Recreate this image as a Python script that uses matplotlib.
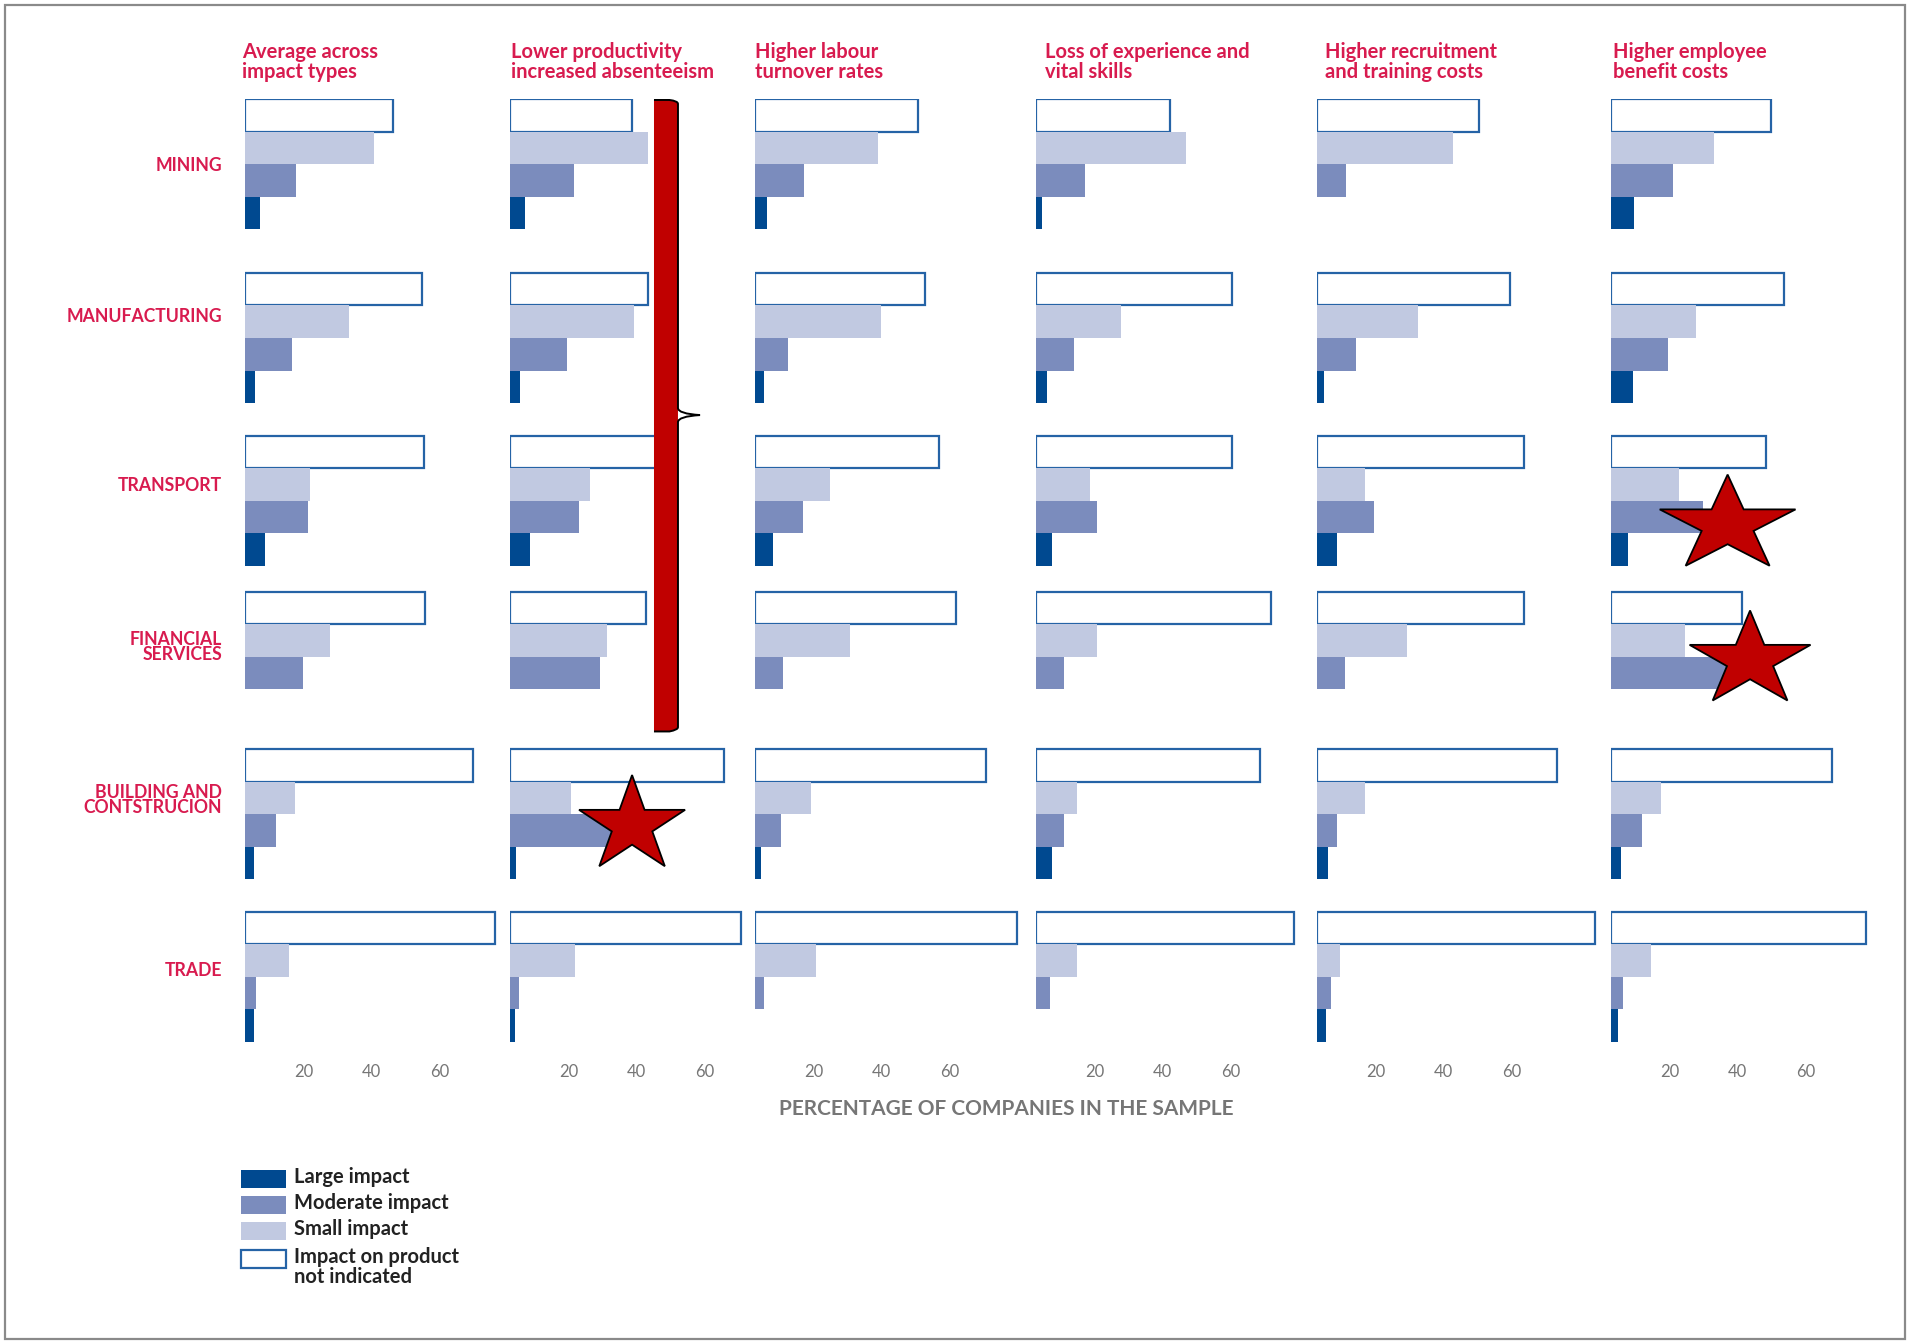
import numpy as np
import matplotlib
matplotlib.use("Agg")
import matplotlib.pyplot as plt
from matplotlib.path import Path
from matplotlib.patches import PathPatch, Polygon, Rectangle
from matplotlib.transforms import blended_transform_factory

# sectors (rows) and impact types (columns)
sectors = ["MINING", "MANUFACTURING", "TRANSPORT", "FINANCIAL\nSERVICES",
           "BUILDING AND\nCONTSTRUCION", "TRADE"]
impact_types = ["Average across\nimpact types",
                "Lower productivity\nincreased absenteeism",
                "Higher labour\nturnover rates",
                "Loss of experience and\nvital skills",
                "Higher recruitment\nand training costs",
                "Higher employee\nbenefit costs"]

# percentage of companies, rows = sectors, cols = impact types
not_indicated = [
    [43.6, 36.0, 47.8, 39.3, 47.5, 47.2],
    [52.0, 40.6, 50.0, 57.6, 56.9, 50.8],
    [52.5, 45.0, 54.0, 57.5, 61.0, 45.7],
    [53.0, 40.0, 59.0, 69.0, 61.0, 38.6],
    [67.0, 63.0, 68.0, 66.0, 70.7, 65.0],
    [73.6, 68.0, 77.0, 76.0, 81.8, 75.0],
]
small_impact = [
    [37.8, 40.7, 36.3, 44.0, 40.0, 30.2],
    [30.5, 36.6, 37.0, 25.0, 29.6, 25.1],
    [19.0, 23.5, 22.0, 16.0, 14.0, 20.0],
    [25.0, 28.5, 28.0, 18.0, 26.4, 21.8],
    [14.6, 18.0, 16.4, 12.0, 14.0, 14.6],
    [13.0, 19.0, 18.0, 12.0, 6.8, 11.8],
]
moderate_impact = [
    [15.0, 18.9, 14.5, 14.5, 8.4, 18.1],
    [13.7, 16.9, 9.6, 11.1, 11.6, 16.7],
    [18.6, 20.3, 14.0, 18.0, 16.8, 27.0],
    [17.0, 26.4, 8.2, 8.2, 8.2, 36.0],
    [9.0, 32.0, 7.5, 8.2, 6.0, 9.0],
    [3.2, 2.5, 2.5, 4.0, 4.0, 3.6],
]
large_impact = [
    [4.5, 4.5, 3.4, 1.8, 0.0, 6.9],
    [3.0, 3.0, 2.5, 3.3, 2.2, 6.5],
    [6.0, 6.0, 5.4, 4.6, 6.0, 5.0],
    [0.0, 0.0, 0.0, 0.0, 0.0, 0.0],
    [2.5, 1.8, 1.8, 4.6, 3.2, 2.9],
    [2.5, 1.5, 0.0, 0.0, 2.5, 2.1],
]
ticks = [20, 40, 60]
legend_labels = ["Large impact", "Moderate impact", "Small impact",
                 "Impact on product\nnot indicated"]

LARGE = "#004990"
MODERATE = "#7b8cbd"
SMALL = "#c1c9e1"
EDGE = "#2563a6"
RED_TEXT = "#d81b4f"
GREY = "#767676"
STAR_RED = "#c00000"

plt.rcParams["font.family"] = ["Lato", "DejaVu Sans"]

W, H = 1910, 1342
fig = plt.figure(figsize=(W / 100, H / 100), dpi=100)


def fx(x):
    return x / W


def fy(y):
    return 1 - y / H


# layout (pixels)
col_starts = [245, 510, 755, 1036, 1317, 1611]
header_x = [242, 511, 755, 1045, 1325, 1613]
px_per_unit = 3.4
top_px, bottom_px = 99, 1042
row_tops = [0, 5.35, 10.35, 15.15, 20.0, 25.0]
label_offsets = [2.05, 1.35, 1.55, 1.7, 1.55, 1.8]
x_span = 90

axes = []
for j, start in enumerate(col_starts):
    ax = fig.add_axes([fx(start), fy(bottom_px), x_span * px_per_unit / W,
                       (bottom_px - top_px) / H])
    ax.set_xlim(0, x_span)
    ax.set_ylim(29, 0)
    ax.patch.set_alpha(0)
    for s in ax.spines.values():
        s.set_visible(False)
    ax.set_yticks([])
    ax.set_xticks(ticks)
    ax.set_xticklabels([str(t) for t in ticks])
    ax.tick_params(axis="x", length=0, pad=16, labelsize=12, labelcolor=GREY)
    for lbl in ax.get_xticklabels():
        lbl.set_ha("right")

    for i in range(len(sectors)):
        y0 = row_tops[i]
        ax.barh(y0 + 0.5, not_indicated[i][j], height=1, color="white",
                edgecolor=EDGE, linewidth=1.6, align="center")
        ax.barh(y0 + 1.5, small_impact[i][j], height=1, color=SMALL,
                linewidth=0, align="center")
        ax.barh(y0 + 2.5, moderate_impact[i][j], height=1, color=MODERATE,
                linewidth=0, align="center")
        if large_impact[i][j] > 0:
            ax.barh(y0 + 3.5, large_impact[i][j], height=1, color=LARGE,
                    linewidth=0, align="center")

    fig.text(fx(header_x[j]), fy(42), impact_types[j], ha="left", va="top",
             fontsize=14.5, fontweight="bold", color=RED_TEXT, linespacing=0.97)
    axes.append(ax)

# row labels
lab_tr = blended_transform_factory(fig.transFigure, axes[0].transData)
for i, name in enumerate(sectors):
    axes[0].text(fx(222), row_tops[i] + label_offsets[i], name, transform=lab_tr,
                 ha="right", va="center", fontsize=12.7, fontweight="bold",
                 color=RED_TEXT, linespacing=0.85)

fig.text(fx(1006), fy(1109), "PERCENTAGE OF COMPANIES IN THE SAMPLE",
         ha="center", va="center", fontsize=15, fontweight="bold", color=GREY)

# red brace over the "lower productivity" column
ax = axes[1]
xl, xr, xs = 42.35, 49.4, 55.9
fill_verts = [(xl, 0.03), (xr - 2.5, 0.03), (xr, 0.06), (xr, 0.15),
              (xr, 19.32), (xr, 19.4), (xr - 2.5, 19.45), (xl, 19.45), (xl, 0.03)]
fill_codes = [Path.MOVETO, Path.LINETO, Path.CURVE3, Path.CURVE3,
              Path.LINETO, Path.CURVE3, Path.CURVE3, Path.LINETO, Path.CLOSEPOLY]
ax.add_patch(PathPatch(Path(fill_verts, fill_codes), facecolor=STAR_RED,
                       edgecolor="none", clip_on=False, zorder=5))
line_verts = [(xl, 0.03), (xr - 2.5, 0.03), (xr, 0.06), (xr, 0.15),
              (xr, 9.5), (xr, 9.68), (xs, 9.72), (xr, 9.76), (xr, 9.94),
              (xr, 19.32), (xr, 19.4), (xr - 2.5, 19.45), (xl, 19.45)]
line_codes = [Path.MOVETO, Path.LINETO, Path.CURVE3, Path.CURVE3,
              Path.LINETO, Path.CURVE3, Path.CURVE3, Path.CURVE3, Path.CURVE3,
              Path.LINETO, Path.CURVE3, Path.CURVE3, Path.LINETO]
ax.add_patch(PathPatch(Path(line_verts, line_codes), facecolor="none",
                       edgecolor="black", linewidth=1.4, clip_on=False, zorder=6))


def star(ax, cx, cy, rx, ry):
    ang = np.deg2rad(np.arange(10) * 36)
    r = np.where(np.arange(10) % 2 == 0, 1.0, 0.382)
    pts = np.column_stack([cx + rx * r * np.sin(ang), cy - ry * r * np.cos(ang)])
    ax.add_patch(Polygon(pts, closed=True, facecolor=STAR_RED, edgecolor="black",
                         linewidth=1.3, clip_on=False, zorder=7))


# stars: (column, x, y, x radius, y radius) in data units
star(axes[1], 35.9, 22.34, 16.4, 1.55)
star(axes[5], 34.3, 13.1, 21.0, 1.55)
star(axes[5], 40.9, 17.26, 18.7, 1.53)

# legend
leg_rows = [1179, 1205, 1231, 1259]
leg_styles = [dict(facecolor=LARGE, edgecolor="none"),
              dict(facecolor=MODERATE, edgecolor="none"),
              dict(facecolor=SMALL, edgecolor="none"),
              dict(facecolor="white", edgecolor=EDGE, linewidth=1.6)]
for yc, lab, st in zip(leg_rows, legend_labels, leg_styles):
    fig.add_artist(Rectangle((fx(241), fy(yc + 9)), 45 / W, 18 / H,
                             transform=fig.transFigure, **st))
    fig.text(fx(294), fy(yc - 12), lab, ha="left", va="top", fontsize=14.5,
             fontweight="bold", color="#222222", linespacing=1.02)

# outer frame
fig.add_artist(Rectangle((fx(5), fy(1339)), 1900 / W, 1334 / H,
                         transform=fig.transFigure, fill=False,
                         edgecolor="#8a8a8a", linewidth=1.6))

fig.savefig("out.png", dpi=100)
